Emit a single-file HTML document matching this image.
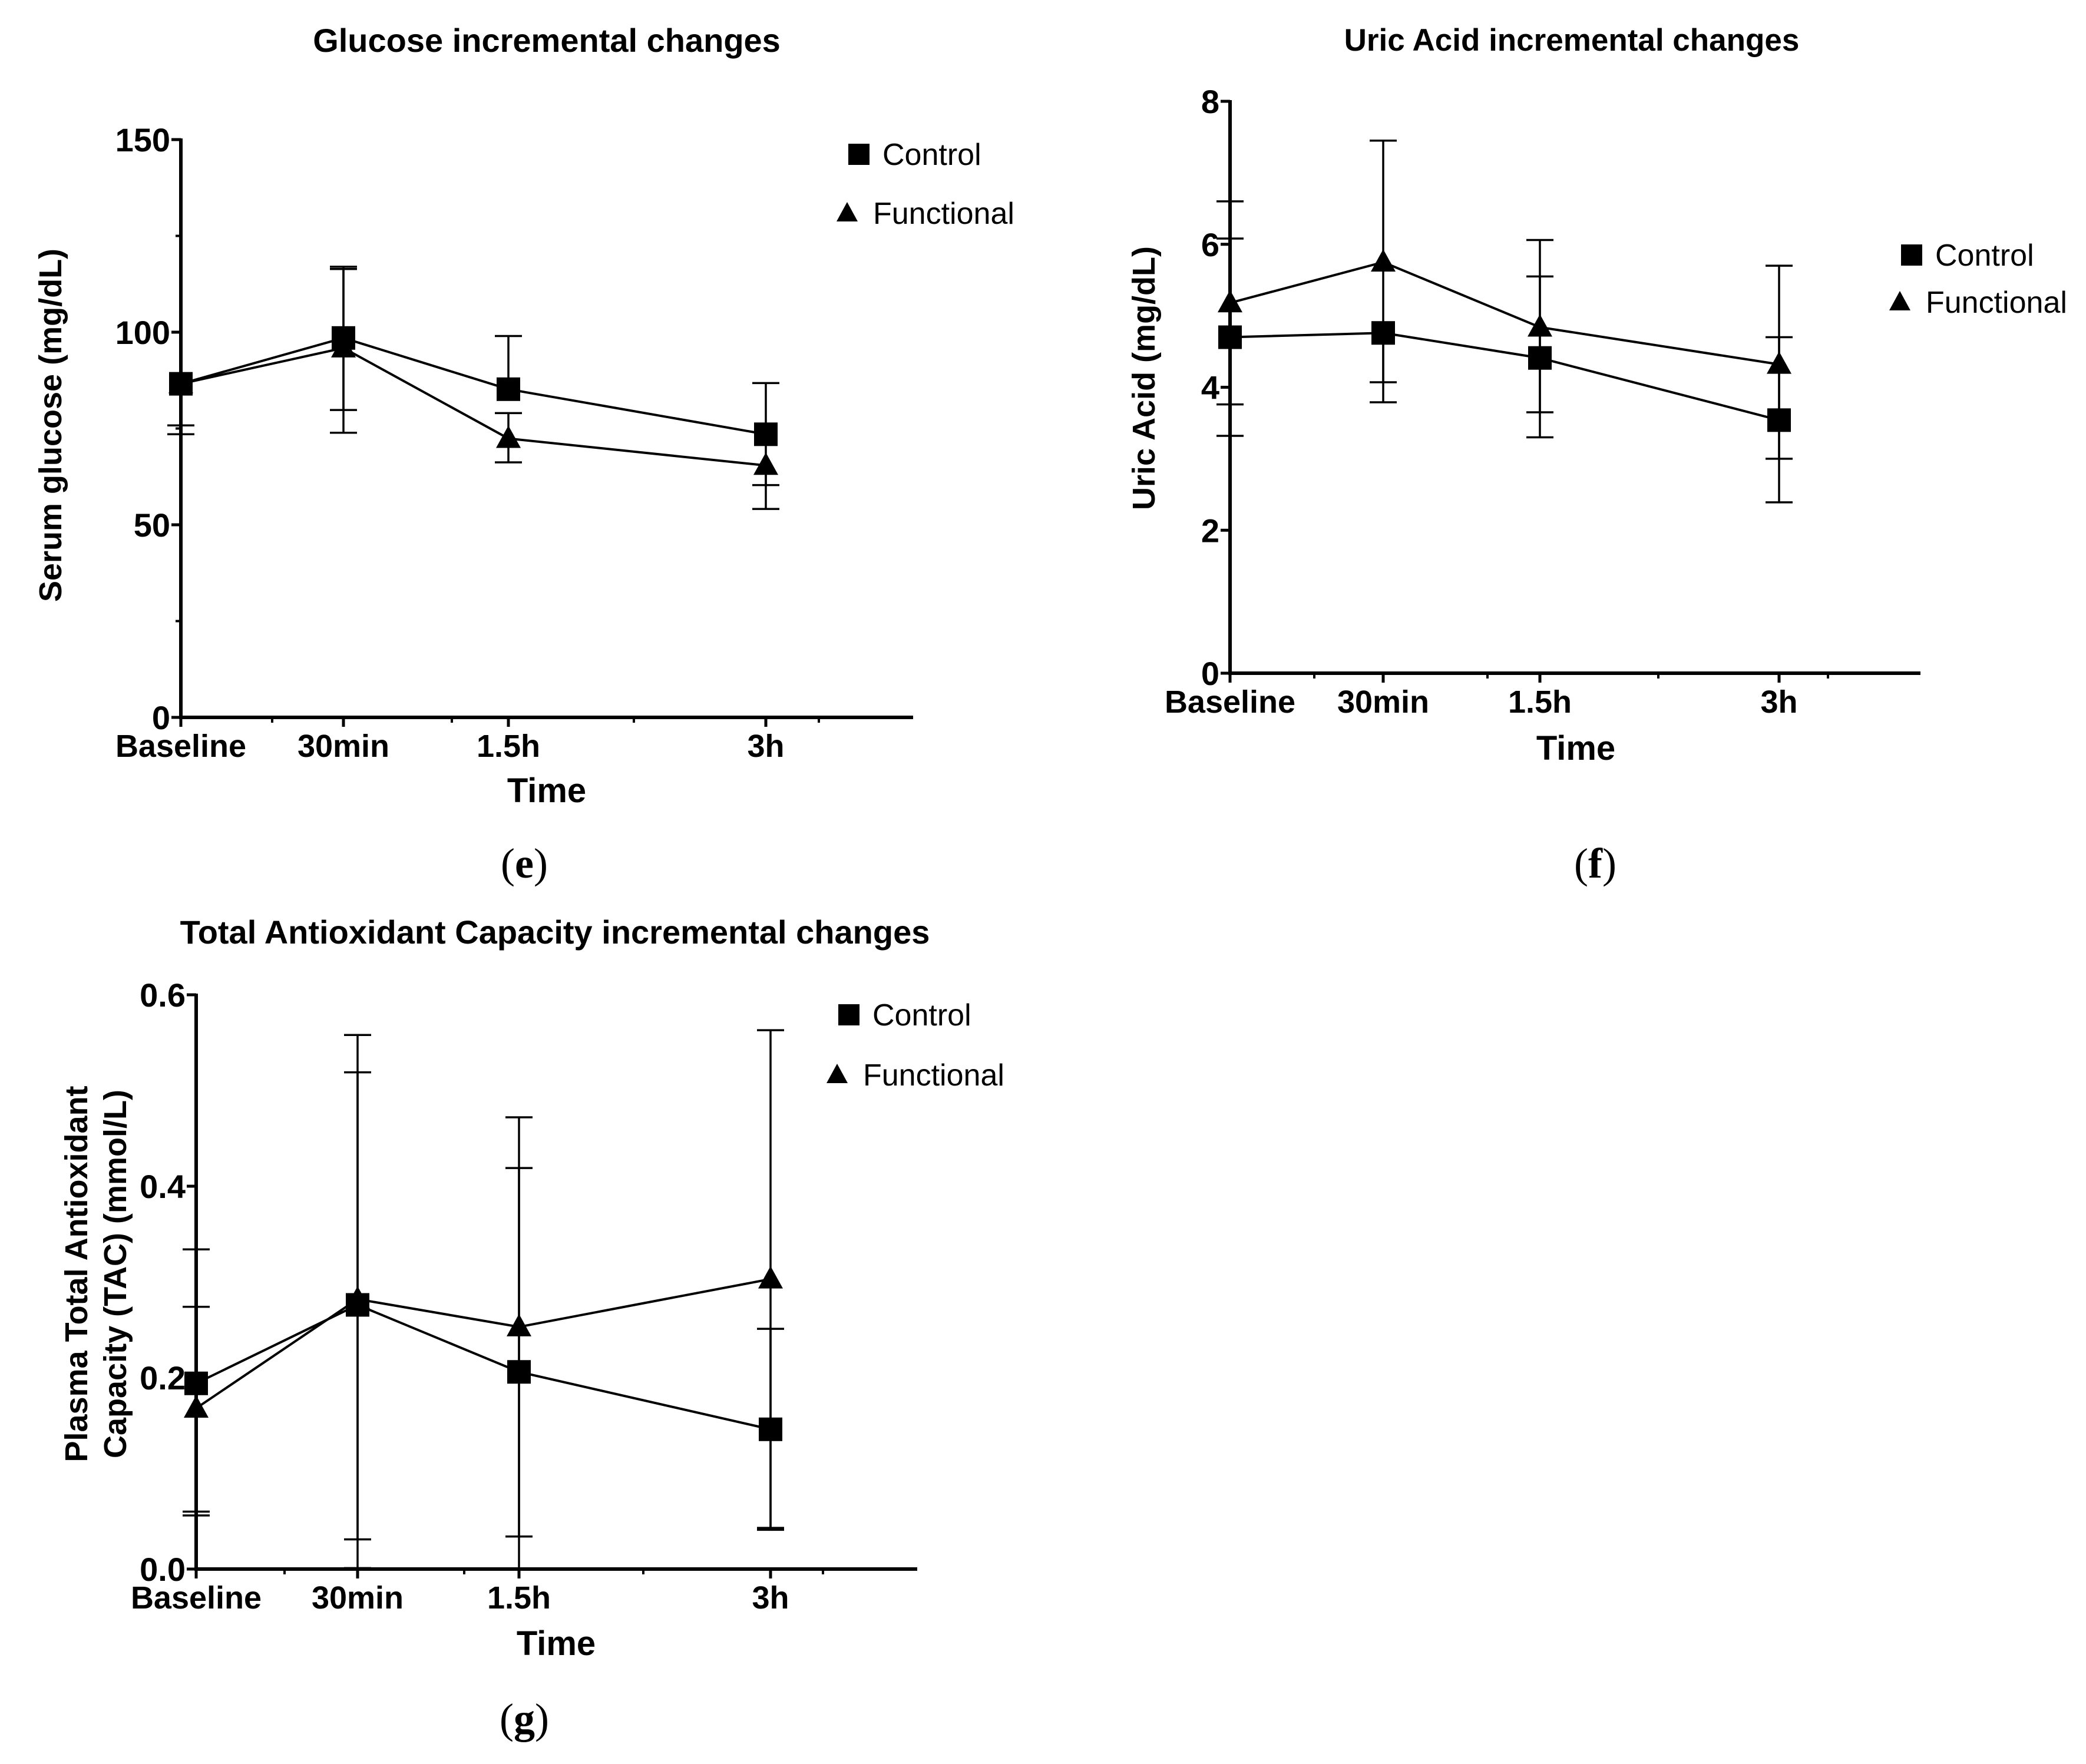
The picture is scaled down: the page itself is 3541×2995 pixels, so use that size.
<!DOCTYPE html>
<html><head><meta charset="utf-8">
<style>
html,body{margin:0;padding:0;background:#fff;}
svg{display:block;font-family:"Liberation Sans",sans-serif;}
</style></head>
<body>
<svg id="fig" width="3541" height="2995" viewBox="0 0 3541 2995" xmlns="http://www.w3.org/2000/svg"></svg>
<script>
const categories = ["Baseline","30min","1.5h","3h"];
// Panel e: glucose
const glucoseControl = [86.6, 98.5, 85.2, 73.5];
const glucoseFunctional = [86.6, 95.9, 72.4, 65.4];
const glucoseControlErrUp = [0, 18.5, 13.8, 13.3];
const glucoseControlErrDown = [13.1, 18.7, 0, 13.2];
const glucoseFunctionalErrUp = [0, 20.5, 6.6, 0];
const glucoseFunctionalErrDown = [10.8, 22.0, 6.2, 11.3];
const glucoseTicks = [0, 50, 100, 150];
// Panel f: uric acid
const uricControl = [4.70, 4.76, 4.41, 3.54];
const uricFunctional = [5.18, 5.75, 4.84, 4.32];
const uricControlErrUp = [1.38, 0, 1.14, 1.16];
const uricControlErrDown = [1.38, 0.97, 1.11, 1.15];
const uricFunctionalErrUp = [1.42, 1.70, 1.22, 1.38];
const uricFunctionalErrDown = [1.42, 1.68, 1.19, 1.32];
const uricTicks = [0, 2, 4, 6, 8];
// Panel g: TAC
const tacControl = [0.194, 0.276, 0.206, 0.146];
const tacFunctional = [0.168, 0.282, 0.253, 0.303];
const tacControlErrUp = [0.140, 0.243, 0.213, 0.105];
const tacControlErrDown = [0.138, 0.245, 0.213, 0.105];
const tacFunctionalErrUp = [0.106, 0.276, 0.219, 0.260];
const tacFunctionalErrDown = [0.108, 0.281, 0.219, 0.260];
const tacTicks = [0.0, 0.2, 0.4, 0.6];

const NS = "http://www.w3.org/2000/svg";
const svg = document.getElementById("fig");
function mk(tag, attrs, parent){
  const e = document.createElementNS(NS, tag);
  for (const k in attrs) e.setAttribute(k, attrs[k]);
  (parent||svg).appendChild(e);
  return e;
}

function chart(cfg){
  const g = mk("g", {});
  
  
  const yMax = cfg.ticks[cfg.ticks.length-1];
  const yS = v => cfg.y0 - (Math.max(0, v) / yMax) * (cfg.y0 - cfg.yTop);
  const xS = i => cfg.cx[i];
  const t = mk("text", {x: cfg.titleX, y: cfg.titleY, "text-anchor":"middle", "font-size":cfg.titleSize||56, "font-weight":"bold"}, g);
  t.textContent = cfg.title;
  
  
  const ya = mk("line", {x1: cfg.x0, y1: cfg.yTop-2, x2: cfg.x0, y2: cfg.y0+3, stroke:"#000", "stroke-width":6}, g);
  
  
  const xa = mk("line", {x1: cfg.x0-3, y1: cfg.y0, x2: cfg.xEnd, y2: cfg.y0, stroke:"#000", "stroke-width":6}, g);
  
  
  cfg.ticks.forEach((v, i) => {
    const y = yS(v);
    const tk = mk("line", {x1: cfg.x0-16, y1: y, x2: cfg.x0, y2: y, stroke:"#000", "stroke-width":5}, g);
    
    
    const lb = mk("text", {x: cfg.x0-18, y: y+20, "text-anchor":"end", "font-size":56, "font-weight":"bold"}, g);
    lb.textContent = cfg.tickFmt(v);
    
    
    if (i < cfg.ticks.length-1 && cfg.minor){
      const my = yS((v + cfg.ticks[i+1]) / 2);
      const mt = mk("line", {x1: cfg.x0-9, y1: my, x2: cfg.x0, y2: my, stroke:"#000", "stroke-width":4}, g);
      
      
    }
  });
  categories.forEach((c, i) => {
    const x = xS(i);
    const tk = mk("line", {x1: x, y1: cfg.y0, x2: x, y2: cfg.y0+16, stroke:"#000", "stroke-width":5}, g);
    
    
    const lb = mk("text", {x: x, y: cfg.y0+67, "text-anchor":"middle", "font-size":54, "font-weight":"bold"}, g);
    lb.textContent = c;
    
    
  });
  cfg.minorX.forEach(x => {
    const mt = mk("line", {x1: x, y1: cfg.y0, x2: x, y2: cfg.y0+9, stroke:"#000", "stroke-width":4}, g);
    
    
  });
  const xt = mk("text", {x: cfg.xTitleX, y: cfg.xTitleY, "text-anchor":"middle", "font-size":58, "font-weight":"bold"}, g);
  xt.textContent = "Time";
  
  
  cfg.yTitle.forEach((line, k) => {
    const yt = mk("text", {x: 0, y: 0, "text-anchor":"middle", "font-size":54, "font-weight":"bold",
      transform: "translate(" + (cfg.yTitleX + k*66) + "," + cfg.yTitleY + ") rotate(-90)"}, g);
    yt.textContent = line;
    
    
  });
  const series = [
    {name:"control", vals: cfg.ctrl, up: cfg.ctrlUp, dn: cfg.ctrlDn, marker:"square"},
    {name:"functional", vals: cfg.func, up: cfg.funcUp, dn: cfg.funcDn, marker:"triangle"}
  ];
  series.forEach(s => {
    s.vals.forEach((v, i) => {
      const x = xS(i);
      const hi = v + s.up[i], lo = v - s.dn[i];
      const eb = mk("line", {x1: x, y1: yS(hi), x2: x, y2: yS(lo), stroke:"#000", "stroke-width":3.5}, g);
      
      
      [[hi, s.up[i]], [lo, s.dn[i]]].forEach(p => {
        if (p[1] > 0){
          const cp = mk("line", {x1: x-23, y1: yS(p[0]), x2: x+23, y2: yS(p[0]), stroke:"#000", "stroke-width":3.5}, g);
          
          
        }
      });
    });
  });
  series.forEach(s => {
    const pts = s.vals.map((v, i) => xS(i) + "," + yS(v)).join(" ");
    const pl = mk("polyline", {points: pts, fill:"none", stroke:"#000", "stroke-width":4}, g);
    
    
  });
  series.forEach(s => {
    s.vals.forEach((v, i) => {
      const x = xS(i), y = yS(v);
      let m;
      if (s.marker === "square") m = mk("rect", {x: x-20, y: y-20, width:40, height:40, fill:"#000"}, g);
      else m = mk("polygon", {points: (x) + "," + (y-22) + " " + (x-21) + "," + (y+16) + " " + (x+21) + "," + (y+16), fill:"#000"}, g);
      
      
    });
  });
  const ls = mk("rect", {x: cfg.legX-18, y: cfg.legY1-18, width:36, height:36, fill:"#000"}, g);
  
  
  const lt1 = mk("text", {x: cfg.legX+40, y: cfg.legY1+18, "font-size":52}, g);
  lt1.textContent = "Control";
  
  
  const tx = cfg.legX - 20;
  const lm = mk("polygon", {points: tx + "," + (cfg.legY2-19) + " " + (tx-18) + "," + (cfg.legY2+14) + " " + (tx+18) + "," + (cfg.legY2+14), fill:"#000"}, g);
  
  
  const lt2 = mk("text", {x: tx+44, y: cfg.legY2+18, "font-size":52}, g);
  lt2.textContent = "Functional";
  
  
  const pl = mk("text", {x: cfg.letterX, y: cfg.letterY + 14, "text-anchor":"middle", "font-size":72, "font-family":"Liberation Serif, serif"}, g);
  pl.innerHTML = '(<tspan font-weight="bold">' + cfg.letter + '</tspan>)';
  
  
}

chart({id:"glucose", title:"Glucose incremental changes", titleX:928, titleY:88,
  x0:307, y0:1218, yTop:237, xEnd:1550, cx:[307,583,863,1300], minorX:[462,767,1076,1390],
  ticks: glucoseTicks, tickFmt: v => String(v), minor:true,
  ctrl: glucoseControl, func: glucoseFunctional,
  ctrlUp: glucoseControlErrUp, ctrlDn: glucoseControlErrDown,
  funcUp: glucoseFunctionalErrUp, funcDn: glucoseFunctionalErrDown,
  xTitleX:928, xTitleY:1362, yTitle:["Serum glucose (mg/dL)"], yTitleX:104, yTitleY:722,
  legX:1458, legY1:262, legY2:362, letter:"e", letterX:890, letterY:1476});

chart({id:"uric", title:"Uric Acid incremental changes", titleX:2668, titleY:86, titleSize:53,
  x0:2088, y0:1143, yTop:172, xEnd:3260, cx:[2088,2348,2614,3020], minorX:[2231,2525,2815,3103],
  ticks: uricTicks, tickFmt: v => String(v), minor:false,
  ctrl: uricControl, func: uricFunctional,
  ctrlUp: uricControlErrUp, ctrlDn: uricControlErrDown,
  funcUp: uricFunctionalErrUp, funcDn: uricFunctionalErrDown,
  xTitleX:2675, xTitleY:1290, yTitle:["Uric Acid (mg/dL)"], yTitleX:1960, yTitleY:642,
  legX:3245, legY1:433, legY2:513, letter:"f", letterX:2708, letterY:1476});

chart({id:"tac", title:"Total Antioxidant Capacity incremental changes", titleX:942, titleY:1602,
  x0:333, y0:2664, yTop:1689, xEnd:1557, cx:[333,607,881,1308], minorX:[483,788,1092,1397],
  ticks: tacTicks, tickFmt: v => v.toFixed(1), minor:false,
  ctrl: tacControl, func: tacFunctional,
  ctrlUp: tacControlErrUp, ctrlDn: tacControlErrDown,
  funcUp: tacFunctionalErrUp, funcDn: tacFunctionalErrDown,
  xTitleX:944, xTitleY:2810, yTitle:["Plasma Total Antioxidant","Capacity (TAC) (mmol/L)"], yTitleX:148, yTitleY:2163,
  legX:1441, legY1:1723, legY2:1825, letter:"g", letterX:890, letterY:2928});
</script>
</body></html>
